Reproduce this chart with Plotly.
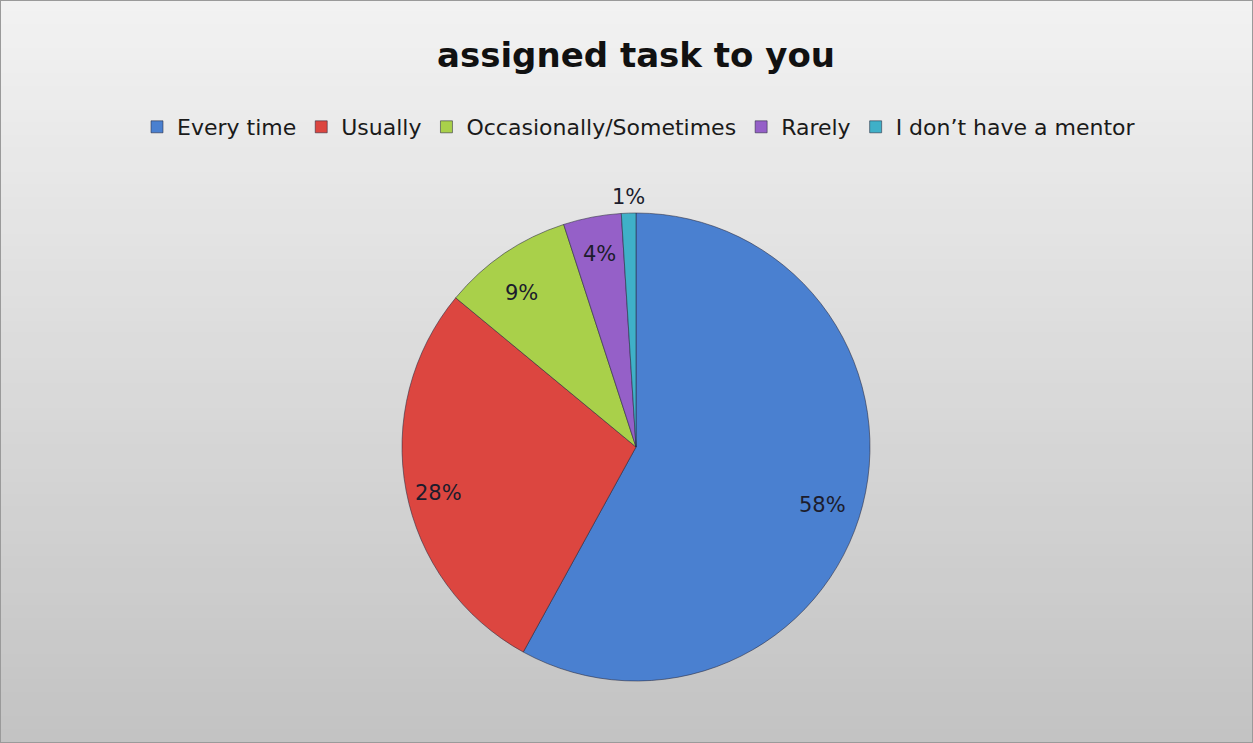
import math
import plotly.graph_objects as go

# ---- data ----
categories = ["Every time", "Usually", "Occasionally/Sometimes", "Rarely", "I don\u2019t have a mentor"]
values = [58, 28, 9, 4, 1]
colors = ["#4a80d0", "#dc4640", "#a9d04a", "#9560c8", "#3fb0c8"]
title_text = "assigned task to you"

W, H = 1253, 743
dom_x = [402 / W, 870 / W]
dom_y = [1 - 681 / H, 1 - 213 / H]

fig = go.Figure()
fig.add_trace(go.Pie(
    labels=categories,
    values=values,
    sort=False,
    direction="clockwise",
    rotation=0,
    marker=dict(colors=colors, line=dict(color="rgba(40,40,60,0.55)", width=1)),
    textinfo="none",
    hoverinfo="label+percent",
    domain=dict(x=dom_x, y=dom_y),
))

# background gradient (Excel-style), built from thin bands
n = 60
top = (242, 242, 242)
bot = (195, 195, 195)
shapes = []
for i in range(n):
    t = i / (n - 1)
    c = tuple(int(round(top[k] + (bot[k] - top[k]) * t)) for k in range(3))
    shapes.append(dict(type="rect", xref="paper", yref="paper",
                       x0=0, x1=1, y0=1 - (i + 1) / n, y1=1 - i / n + 0.002,
                       fillcolor="rgb(%d,%d,%d)" % c, line=dict(width=0), layer="below"))
shapes.append(dict(type="rect", xref="paper", yref="paper", x0=0, x1=1, y0=0, y1=1,
                   line=dict(color="#9a9a9a", width=2), fillcolor="rgba(0,0,0,0)", layer="below"))

# data labels positioned from slice angles
cx = (dom_x[0] + dom_x[1]) / 2 * W
cy = (1 - (dom_y[0] + dom_y[1]) / 2) * H
R = (dom_x[1] - dom_x[0]) * W / 2
total = sum(values)
annotations = []
cum = 0
for v in values:
    mid = (cum + v / 2) / total * 2 * math.pi
    cum += v
    frac = v / total
    rf = 0.84 if frac > 0.02 else 1.07
    px = cx + rf * R * math.sin(mid)
    py = cy - rf * R * math.cos(mid)
    annotations.append(dict(x=px / W, y=1 - py / H, xref="paper", yref="paper",
                            xanchor="center", yanchor="middle",
                            xshift=-4 if frac >= 0.05 else 0,
                            yshift=-9 if frac >= 0.05 else 0,
                            text="%d%%" % round(100 * frac), showarrow=False,
                            font=dict(family="DejaVu Sans, sans-serif", size=21, color="#1c1c2c")))

fig.update_layout(
    width=W, height=H,
    margin=dict(l=0, r=0, t=0, b=0),
    paper_bgcolor="#e6e6e6",
    plot_bgcolor="rgba(0,0,0,0)",
    title=dict(text="<b>" + title_text + "</b>", x=636 / W, xanchor="center",
               y=1 - 55 / H, yanchor="middle",
               font=dict(family="DejaVu Sans, sans-serif", size=34, color="#111111")),
    legend=dict(orientation="h", x=639 / W, xanchor="center", y=1 - 127 / H, yanchor="middle",
                font=dict(family="DejaVu Sans, sans-serif", size=22, color="#1a1a1a"),
                bgcolor="rgba(0,0,0,0)", itemwidth=30, tracegroupgap=0),
    shapes=shapes,
    annotations=annotations,
    showlegend=True,
)

fig.write_html("out.html", config={"displayModeBar": False},
               post_script="document.body.style.margin='0';document.body.style.overflow='hidden';")
